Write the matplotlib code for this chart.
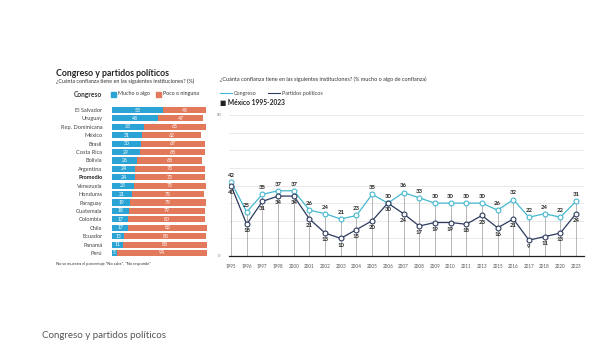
import numpy as np
import matplotlib
matplotlib.use("Agg")
import matplotlib.pyplot as plt
from matplotlib.patches import Rectangle
from matplotlib.lines import Line2D

plt.rcParams['font.family'] = ['Lato', 'DejaVu Sans']

# Bar chart data (Congreso, % by country)
countries = ['El Salvador', 'Uruguay', 'Rep. Dominicana', 'México', 'Brasil', 'Costa Rica',
             'Bolivia', 'Argentina', 'Promedio', 'Venezuela', 'Honduras', 'Paraguay',
             'Guatemala', 'Colombia', 'Chile', 'Ecuador', 'Panamá', 'Perú']
mucho = [53, 48, 33, 31, 30, 29, 26, 24, 24, 23, 21, 19, 18, 17, 17, 13, 11, 5]
poco = [45, 47, 65, 62, 67, 68, 68, 73, 73, 75, 75, 79, 79, 80, 82, 85, 88, 94]

# Line chart data (México 1995-2023)
years = ['1995', '1996', '1997', '1998', '2000', '2001', '2002', '2003', '2004', '2005', '2006',
         '2007', '2008', '2009', '2010', '2011', '2013', '2015', '2016', '2017', '2018',
         '2020', '2023']
congreso = [42, 25, 35, 37, 37, 26, 24, 21, 23, 35, 30, 36, 33, 30, 30, 30, 30, 26, 32, 22, 24, 22, 31]
partidos = [40, 18, 31, 34, 34, 21, 13, 10, 15, 20, 30, 24, 17, 19, 19, 18, 23, 16, 21, 9, 11, 13, 24]

BLUE = '#2ba3d4'
ORANGE = '#e2795a'
CYAN = '#45b8cf'
NAVY = '#2d3a5e'
W, H = 608, 350

def fx(px):
    return px / W

def fy(py):
    return 1 - py / H

fig = plt.figure(figsize=(W / 100, H / 100), dpi=100)
fig.patch.set_facecolor('white')

# ---- left panel texts ----
fig.text(fx(56), fy(73), 'Congreso y partidos políticos', fontsize=6.3, fontweight='bold',
         color='#222222', va='center')
fig.text(fx(56), fy(81.5), '¿Cuánta confianza tiene en las siguientes instituciones? (%)',
         fontsize=3.9, color='#333333', va='center')
fig.text(fx(102), fy(94), 'Congreso', fontsize=4.8, fontweight='bold', color='#333333',
         va='center', ha='right')
fig.patches.append(Rectangle((fx(111), fy(96.5)), fx(5), 5 / H, color=BLUE,
                             transform=fig.transFigure, figure=fig))
fig.text(fx(118), fy(94), 'Mucho o algo', fontsize=3.8, color='#333333', va='center')
fig.patches.append(Rectangle((fx(156), fy(96.5)), fx(5), 5 / H, color=ORANGE,
                             transform=fig.transFigure, figure=fig))
fig.text(fx(163), fy(94), 'Poco o ninguna', fontsize=3.8, color='#333333', va='center')
fig.text(fx(56), fy(264), 'No se muestra el porcentaje "No sabe", "No responde"',
         fontsize=2.9, color='#333333', va='center')

# ---- bar chart ----
axb = fig.add_axes([fx(112), fy(257.2), fx(96), 151.4 / H])
y = np.arange(len(countries))
axb.barh(y, mucho, height=0.72, color=BLUE)
axb.barh(y, poco, left=mucho, height=0.72, color=ORANGE)
for i, (m, p) in enumerate(zip(mucho, poco)):
    axb.text(m / 2, i, str(m), ha='center', va='center', fontsize=3.7, color='white')
    axb.text(m + p / 2, i, str(p), ha='center', va='center', fontsize=3.7, color='white')
axb.set_xlim(0, 100)
axb.set_ylim(len(countries) - 0.5, -0.5)
axb.set_yticks(y)
axb.set_yticklabels(countries, fontsize=4.1, color='#444444')
for lbl in axb.get_yticklabels():
    if lbl.get_text() == 'Promedio':
        lbl.set_fontweight('bold')
        lbl.set_color('#222222')
axb.tick_params(axis='y', length=0, pad=7)
axb.set_xticks([])
for s in axb.spines.values():
    s.set_visible(False)

# ---- right panel texts ----
fig.text(fx(220), fy(79), '¿Cuánta confianza tiene en las siguientes instituciones? (% mucho o algo de confianza)',
         fontsize=4.0, color='#333333', va='center')
fig.lines.append(Line2D([fx(220), fx(232)], [fy(93), fy(93)], color=CYAN, lw=0.8,
                        transform=fig.transFigure))
fig.text(fx(234), fy(93), 'Congreso', fontsize=3.9, color='#444444', va='center')
fig.lines.append(Line2D([fx(268), fx(280)], [fy(93), fy(93)], color=NAVY, lw=0.8,
                        transform=fig.transFigure))
fig.text(fx(282), fy(93), 'Partidos políticos', fontsize=3.9, color='#444444', va='center')
fig.text(fx(220), fy(103), '■ México 1995-2023', fontsize=4.8, fontweight='bold',
         color='#222222', va='center')

# ---- line chart ----
axl = fig.add_axes([fx(229), fy(256), fx(355), 141 / H])
x = np.arange(len(years))
axl.set_xlim(-0.13, 22.51)
axl.set_ylim(0, 80)
for g in range(10, 90, 10):
    axl.axhline(g, color='#e2e2e2', lw=0.5, zorder=0)
for xi, c, p in zip(x, congreso, partidos):
    axl.plot([xi, xi], [0, max(c, p)], color='#9a9a9a', lw=0.5, zorder=1)
axl.plot(x, congreso, color=CYAN, lw=0.9, marker='o', ms=3.5, mfc='white', mec=CYAN,
         mew=0.8, zorder=3)
axl.plot(x, partidos, color=NAVY, lw=0.9, marker='o', ms=3.5, mfc='white', mec=NAVY,
         mew=0.8, zorder=3)
for xi, c, p in zip(x, congreso, partidos):
    axl.annotate(str(c), (xi, c), xytext=(0, 3), textcoords='offset points', ha='center',
                 va='bottom', fontsize=4.3, color='#222222', fontweight='bold')
    axl.annotate(str(p), (xi, p), xytext=(0, -3), textcoords='offset points', ha='center',
                 va='top', fontsize=4.3, color='#222222', fontweight='bold')
axl.set_xticks(x)
axl.set_xticklabels(years, fontsize=3.3, color='#555555')
axl.tick_params(axis='x', length=0, pad=6)
axl.set_yticks([])
for s in ['top', 'right', 'left']:
    axl.spines[s].set_visible(False)
axl.spines['bottom'].set_color('#222222')
axl.spines['bottom'].set_linewidth(0.9)
fig.text(fx(219), fy(115), '80', fontsize=3.0, color='#777777', va='center', ha='center')
fig.text(fx(219), fy(256), '0', fontsize=3.0, color='#777777', va='center', ha='center')

# ---- bottom caption ----
fig.text(fx(42), fy(336), 'Congreso y partidos políticos', fontsize=7.0, color='#555555',
         va='center')

fig.savefig('out.png', dpi=100, facecolor='white')
